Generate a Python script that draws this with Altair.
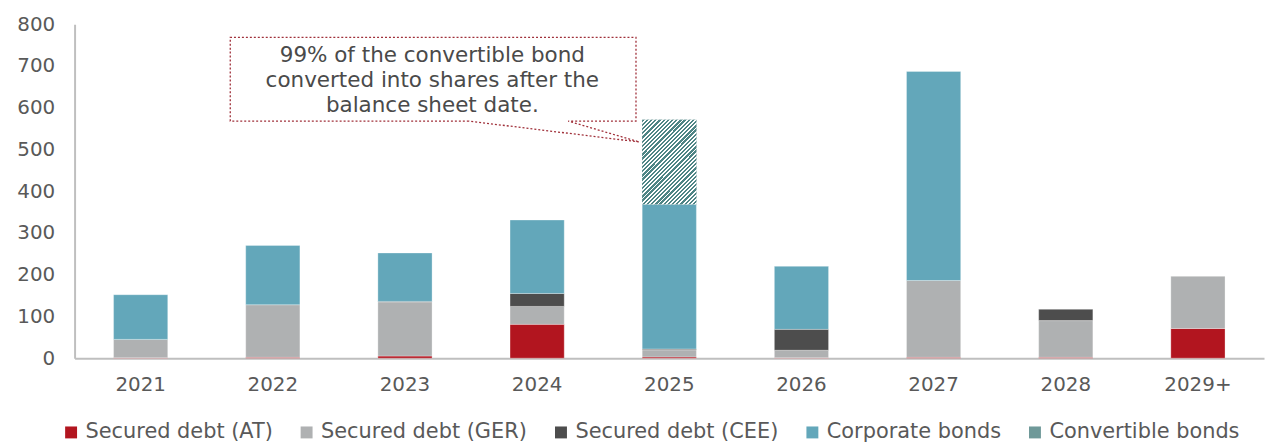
import altair as alt
import numpy as np
import pandas as pd

years = ["2021", "2022", "2023", "2024", "2025", "2026", "2027", "2028", "2029+"]
series = ["Secured debt (AT)", "Secured debt (GER)", "Secured debt (CEE)",
          "Corporate bonds", "Convertible bonds"]
colors = ["#b2151f", "#afb1b2", "#4d4d4d", "#63a7ba", "#6f9999"]

secured_at = [1, 2, 5, 81, 3, 1, 2, 2, 71]
secured_ger = [44, 126, 129, 43, 17, 18, 184, 88, 125]
secured_cee = [0, 0, 2, 31, 2, 50, 0, 27, 0]
corporate = [107, 142, 116, 176, 347, 151, 501, 0, 0]
convertible = [0, 0, 0, 0, 202, 0, 0, 0, 0]

note_lines = ["99% of the convertible bond",
              "converted into shares after the",
              "balance sheet date."]

# stacked segments
vals = np.array([secured_at, secured_ger, secured_cee, corporate, convertible], dtype=float)
ends = np.cumsum(vals, axis=0)
starts = ends - vals
rows = []
for si, s in enumerate(series):
    for yi, yr in enumerate(years):
        if vals[si, yi] > 0:
            rows.append({"year": yr, "series": s, "start": starts[si, yi],
                         "end": ends[si, yi], "order": si})
df = pd.DataFrame(rows)

FONT = "DejaVu Sans"
ydom = [0, 800]
xscale = alt.Scale(domain=years, paddingInner=0.59, paddingOuter=0.295)

xenc = alt.X("year:N", sort=years, title=None, scale=xscale,
             axis=alt.Axis(labelAngle=0, labelFontSize=20, labelColor="#595959",
                           labelFont=FONT, ticks=False, labelPadding=17,
                           domainColor="#bfbfbf", domainWidth=2))
yenc = alt.Y("start:Q", title=None,
             scale=alt.Scale(domain=ydom, nice=False),
             axis=alt.Axis(values=list(range(0, 801, 100)), labelFontSize=20,
                           labelColor="#595959", labelFont=FONT, ticks=False,
                           labelPadding=20, grid=False, domainColor="#bfbfbf",
                           domainWidth=2))

bars = alt.Chart(df).mark_bar(stroke="white", strokeWidth=0.6, strokeOpacity=0.5).encode(
    x=xenc,
    y=yenc,
    y2="end:Q",
    color=alt.Color("series:N", sort=series,
                    scale=alt.Scale(domain=series, range=colors),
                    legend=alt.Legend(title=None, orient="none", direction="horizontal",
                                      legendX=-14, legendY=400, symbolType="square",
                                      symbolSize=144, symbolStrokeWidth=0,
                                      labelFontSize=21, labelFont=FONT,
                                      labelColor="#595959", labelOffset=4,
                                      labelLimit=600,
                                      columnPadding=23, padding=0)),
    order=alt.Order("order:Q"),
)

# diagonal hatch via hard-stop gradient
dark = "#4e8585"
stops = []
n_periods = 44
for k in range(n_periods):
    a = k / n_periods
    b = (k + 0.55) / n_periods
    c = (k + 1) / n_periods
    stops += [alt.GradientStop(color=dark, offset=a), alt.GradientStop(color=dark, offset=b),
              alt.GradientStop(color="white", offset=b), alt.GradientStop(color="white", offset=c)]
hatch = alt.LinearGradient(gradient="linear", stops=stops, x1=0, y1=0, x2=1, y2=1.55)

hatch_bar = alt.Chart(df).transform_filter(
    alt.datum.series == "Convertible bonds"
).mark_bar(fill=hatch).encode(
    x=alt.X("year:N", sort=years, scale=xscale),
    y=alt.Y("start:Q", scale=alt.Scale(domain=ydom, nice=False)),
    y2="end:Q",
)

# callout box (x in category units 0..9, y in value units)
call_x = [2.983, 1.178, 1.178, 4.248, 4.248, 3.735, 4.273, 2.983]
call_y = [568, 568, 768.5, 768.5, 568, 568, 518, 568]
call_df = pd.DataFrame({"cx": call_x, "cy": call_y, "i": list(range(len(call_x)))})

callout = alt.Chart(call_df).mark_line(color="#a0303a", strokeWidth=1.3,
                                       strokeDash=[2, 2]).encode(
    x=alt.X("cx:Q", scale=alt.Scale(domain=[0, 9], nice=False, zero=False), axis=None),
    y=alt.Y("cy:Q", scale=alt.Scale(domain=ydom, nice=False)),
    order="i:Q",
)

note_df = pd.DataFrame({"tx": [2.707], "ty": [709]})
note = alt.Chart(note_df).mark_text(text=note_lines, font=FONT, fontSize=21.6,
                                    color="#4a4a4a", align="center",
                                    baseline="alphabetic", lineHeight=25).encode(
    x=alt.X("tx:Q", scale=alt.Scale(domain=[0, 9], nice=False, zero=False), axis=None),
    y=alt.Y("ty:Q", scale=alt.Scale(domain=ydom, nice=False)),
)

chart = alt.layer(alt.layer(bars, hatch_bar), alt.layer(callout, note)).resolve_scale(
    x="independent"
).properties(
    width=1197, height=336,
    autosize=alt.AutoSizeParams(type="none"),
    padding={"left": 67, "top": 15, "right": 2, "bottom": 85},
).configure_view(stroke=None)

chart.save("out.html", embed_options={"renderer": "svg", "actions": False})
